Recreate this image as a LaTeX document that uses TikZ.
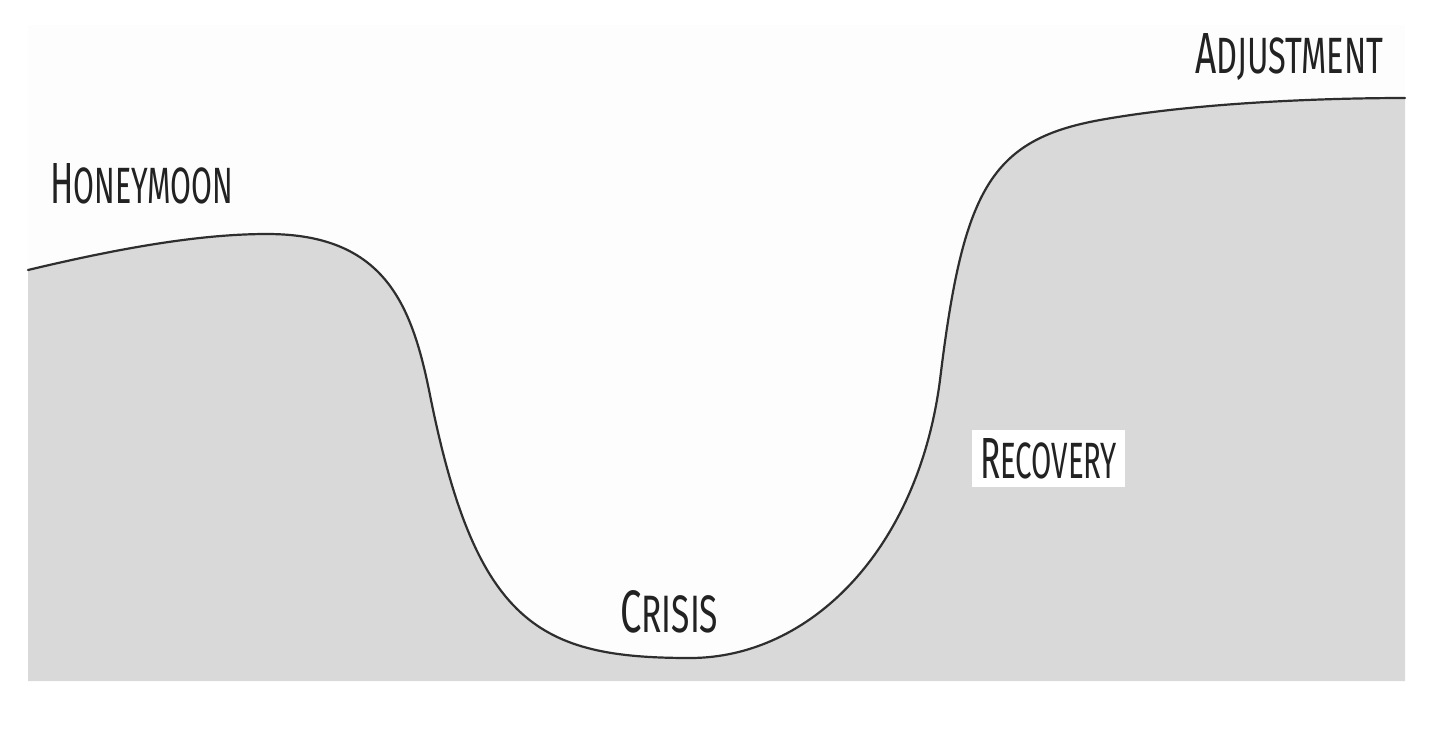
\documentclass[tikz,border=0pt]{standalone}
\usepackage{fontspec}
\usepackage{graphicx}
\newfontfamily\handfont[FakeStretch=0.6]{Fira Sans}
\newcommand{\scword}[2]{{\handfont\fontsize{58}{58}\selectfont #1\fontsize{51}{51}\selectfont #2}}
\definecolor{hillgray}{HTML}{D9D9D9}
\definecolor{skycol}{HTML}{FDFDFD}
\definecolor{linecol}{HTML}{2E2E2E}
\definecolor{inkcol}{HTML}{222222}
\tikzset{
  hill/.style={fill=hillgray},
  curveline/.style={draw=linecol, line width=2.2pt, line cap=round},
  label/.style={inner sep=0pt, text=inkcol},
  boxlabel/.style={fill=white, inner sep=0pt, minimum width=153pt, minimum height=57pt, text=inkcol}
}
\begin{document}
\begin{tikzpicture}[x=1pt,y=-1pt]
\useasboundingbox (0,0) rectangle (1452,732);
\fill[white] (0,0) rectangle (1452,732);
\fill[skycol] (28,25) rectangle (1405,681);
\coordinate (s) at (28,270);
\coordinate (peak) at (267,234);
\coordinate (fall) at (430,395);
\coordinate (low) at (690,658);
\coordinate (rise) at (940,380);
\coordinate (knee) at (1100,120);
\coordinate (e) at (1405,98);
\fill[hill] (28,681) -- (s)
  .. controls (120,248) and (200,234) .. (peak)
  .. controls (385,234) and (412,305) .. (fall)
  .. controls (476,625) and (540,658) .. (low)
  .. controls (810,658) and (918,550) .. (rise)
  .. controls (963,190) and (990,140) .. (knee)
  .. controls (1200,102) and (1330,98) .. (e)
  -- (1405,681) -- cycle;
\draw[curveline] (s)
  .. controls (120,248) and (200,234) .. (peak)
  .. controls (385,234) and (412,305) .. (fall)
  .. controls (476,625) and (540,658) .. (low)
  .. controls (810,658) and (918,550) .. (rise)
  .. controls (963,190) and (990,140) .. (knee)
  .. controls (1200,102) and (1330,98) .. (e);
\node[label, anchor=base west] (honeymoon) at (50,203) {\resizebox{183pt}{40pt}{\scword{H}{ONEYMOON}}};
\node[label, anchor=base west] (adjustment) at (1195,73) {\resizebox{188pt}{40pt}{\scword{A}{DJUSTMENT}}};
\node[label, anchor=base west] (crisis) at (620,632) {\resizebox{98pt}{42pt}{\scword{C}{RISIS}}};
\node[boxlabel] (recovery) at (1048.5,458.5) {\resizebox{137pt}{40pt}{\scword{R}{ECOVERY}}};
\end{tikzpicture}
\end{document}
